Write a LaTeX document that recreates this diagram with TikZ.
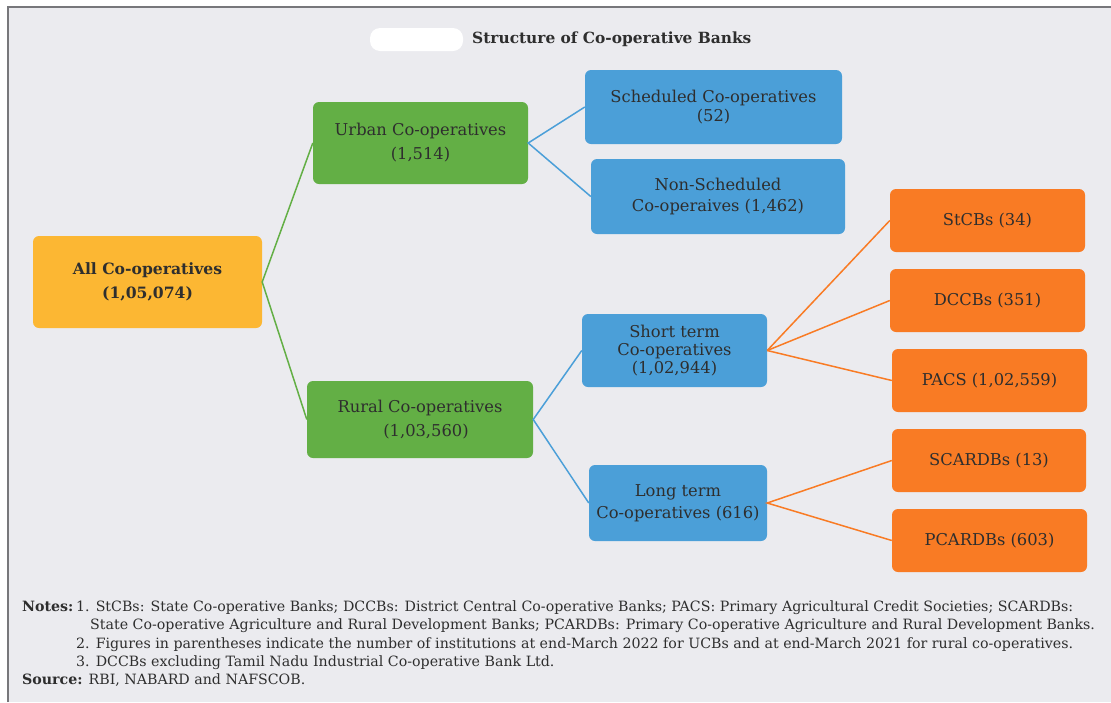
\documentclass[tikz,border=0pt]{standalone}
\usepackage{fontspec}
\setmainfont{DejaVu Serif}
\definecolor{pagebg}{HTML}{EBEBEF}
\definecolor{framegray}{HTML}{77777B}
\definecolor{txt}{HTML}{2E2E2E}
\definecolor{rootfill}{HTML}{FCB733}
\definecolor{greenfill}{HTML}{63AF45}
\definecolor{bluefill}{HTML}{4B9FD8}
\definecolor{orangefill}{HTML}{F97B24}
\tikzset{
  box/.style={rectangle, rounded corners=6pt, draw=none, inner sep=0pt,
    align=center, text=txt, font=\fontsize{16.3}{19}\selectfont},
  rootbox/.style={box, fill=rootfill, font=\fontsize{15.6}{24}\selectfont\bfseries},
  greenbox/.style={box, fill=greenfill},
  bluebox/.style={box, fill=bluefill},
  orangebox/.style={box, fill=orangefill},
  gline/.style={draw=greenfill, line width=1.5pt},
  bline/.style={draw=bluefill, line width=1.5pt},
  oline/.style={draw=orangefill, line width=1.5pt},
  noteline/.style={anchor=base west, inner sep=0pt, text=txt, font=\fontsize{14.2}{16}\selectfont},
}
\begin{document}
\begin{tikzpicture}[x=1pt,y=-1pt]
\useasboundingbox (0,0) rectangle (1111,702);
% page background and frame
\fill[white] (0,0) rectangle (1111,702);
\fill[pagebg] (8,7) rectangle (1111,702);
\draw[framegray, line width=2pt] (8,702) -- (8,7) -- (1111,7);

% title with masked label in front of it
\fill[white, rounded corners=10pt] (370,28) rectangle (463,51);
\node[anchor=west, inner sep=0pt, text=txt, font=\fontsize{15.4}{17}\selectfont\bfseries]
  (title) at (472,39) {Structure of Co-operative Banks};

% level 0
\node[rootbox, minimum width=229pt, minimum height=92pt] (allco) at (147.5,282)
  {All Co-operatives\\(1,05,074)};

% level 1
\node[greenbox, minimum width=215pt, minimum height=82pt, font=\fontsize{16.3}{24}\selectfont] (urban) at (420.5,143)
  {Urban Co-operatives\\(1,514)};
\node[greenbox, minimum width=226pt, minimum height=77pt, font=\fontsize{16.3}{24}\selectfont] (rural) at (420,419.5)
  {Rural Co-operatives\\\hspace*{12pt}(1,03,560)};

% level 2
\node[bluebox, minimum width=257pt, minimum height=74pt] (sched) at (713.5,107)
  {Scheduled Co-operatives\\(52)};
\node[bluebox, minimum width=254pt, minimum height=75pt, font=\fontsize{16.3}{21}\selectfont] (nonsched) at (718,196.5)
  {Non-Scheduled\\Co-operaives (1,462)};
\node[bluebox, minimum width=185pt, minimum height=73pt, font=\fontsize{16.3}{18}\selectfont] (short) at (674.5,350.5)
  {Short term\\Co-operatives\\(1,02,944)};
\node[bluebox, minimum width=178pt, minimum height=76pt, font=\fontsize{16.3}{22}\selectfont] (long) at (678,503)
  {Long term\\Co-operatives (616)};

% level 3
\node[orangebox, minimum width=195pt, minimum height=63pt] (stcbs) at (987.5,220.5) {StCBs (34)};
\node[orangebox, minimum width=195pt, minimum height=63pt] (dccbs) at (987.5,300.5) {DCCBs (351)};
\node[orangebox, minimum width=195pt, minimum height=63pt] (pacs) at (989.5,380.5) {PACS (1,02,559)};
\node[orangebox, minimum width=194pt, minimum height=63pt] (scardbs) at (989,460.5) {SCARDBs (13)};
\node[orangebox, minimum width=195pt, minimum height=63pt] (pcardbs) at (989.5,540.5) {PCARDBs (603)};

% connectors
\draw[gline] (urban.west) -- (allco.east) -- (rural.west);
\draw[bline] (sched.west) -- (urban.east) -- (nonsched.west);
\draw[bline] (short.west) -- (rural.east) -- (long.west);
\draw[oline] (stcbs.west) -- (short.east);
\draw[oline] (dccbs.west) -- (short.east);
\draw[oline] (pacs.west) -- (short.east);
\draw[oline] (scardbs.west) -- (long.east) -- (pcardbs.west);

% notes and source
\node[noteline, font=\fontsize{14.2}{16}\selectfont\bfseries] (notes) at (22,611) {Notes:};
\node[noteline] (n1) at (76,611) {1. StCBs: State Co-operative Banks; DCCBs: District Central Co-operative Banks; PACS: Primary Agricultural Credit Societies; SCARDBs:};
\node[noteline] (n1b) at (90,629) {State Co-operative Agriculture and Rural Development Banks; PCARDBs: Primary Co-operative Agriculture and Rural Development Banks.};
\node[noteline] (n2) at (76,648) {2. Figures in parentheses indicate the number of institutions at end-March 2022 for UCBs and at end-March 2021 for rural co-operatives.};
\node[noteline] (n3) at (76,666) {3. DCCBs excluding Tamil Nadu Industrial Co-operative Bank Ltd.};
\node[noteline] (src) at (22,684) {\textbf{Source:} RBI, NABARD and NAFSCOB.};
\end{tikzpicture}
\end{document}
